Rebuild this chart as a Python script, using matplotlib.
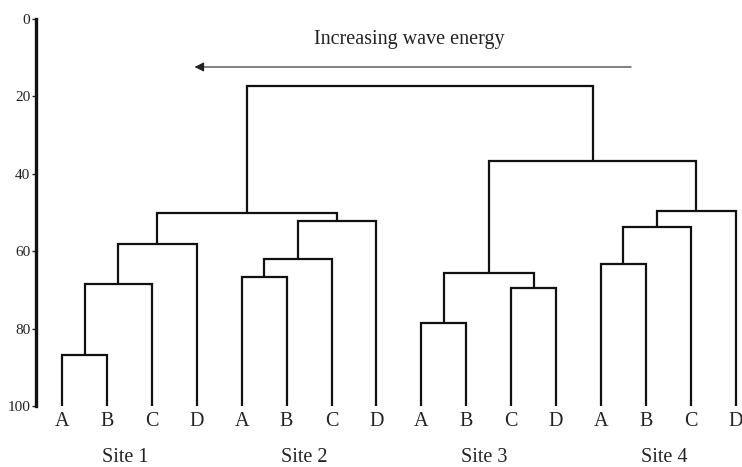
import matplotlib
matplotlib.use("Agg")
import matplotlib.pyplot as plt

plt.rcParams['font.family'] = ['Liberation Serif', 'DejaVu Serif']

# leaves, left to right
leaf_labels = ['A', 'B', 'C', 'D'] * 4
sites = ['Site 1', 'Site 2', 'Site 3', 'Site 4']

# merges, scipy-style: nodes 0-15 are leaves, node 16+k is merge k
merge_left = [0, 16, 17, 4, 19, 20, 18, 8, 10, 23, 12, 26, 27, 25, 22]
merge_right = [1, 2, 3, 5, 6, 7, 21, 9, 11, 24, 13, 14, 15, 28, 29]
merge_height = [86.7, 68.6, 58.2, 66.7, 62.0, 52.3, 50.2,
                78.5, 69.6, 65.6, 63.2, 53.7, 49.6, 36.7, 17.3]

yticks = [0, 20, 40, 60, 80, 100]
title = 'Increasing wave energy'

W, H = 742, 467
fig = plt.figure(figsize=(W / 100, H / 100), dpi=100)
ax = fig.add_axes([36 / W, 1 - 406 / H, (742 - 36) / W, (406 - 19) / H])

n = len(leaf_labels)
xpos = {i: float(i) for i in range(n)}
hpos = {i: 100.0 for i in range(n)}

lc = '#111111'
tc = '#222222'
for k, (a, b, h) in enumerate(zip(merge_left, merge_right, merge_height)):
    xa, xb = xpos[a], xpos[b]
    ax.plot([xa, xa, xb, xb], [hpos[a], h, h, hpos[b]], color=lc, lw=1.6,
            solid_joinstyle='miter', solid_capstyle='butt', clip_on=False)
    xpos[n + k] = (xa + xb) / 2
    hpos[n + k] = h

ax.set_ylim(100, 0)
ax.set_xlim(-0.58, 15.14)

for s in ['top', 'right', 'bottom']:
    ax.spines[s].set_visible(False)
ax.spines['left'].set_linewidth(2.4)
ax.spines['left'].set_color(lc)
ax.set_yticks(yticks)
ax.tick_params(axis='y', direction='out', length=3, width=1, pad=1,
               labelsize=11, colors=tc)

ax.set_xticks(range(n))
ax.set_xticklabels(leaf_labels, fontsize=14.5, color=tc)
ax.tick_params(axis='x', length=0, pad=4)

for i, s in enumerate(sites):
    ax.text(4 * i + 1.4, 113.2, s, ha='center', va='center', fontsize=14.5,
            color=tc, clip_on=False)

ax.annotate('', xy=(2.95, 12.4), xytext=(12.67, 12.4),
            arrowprops=dict(arrowstyle='-|>', lw=0.8, color=tc,
                            mutation_scale=14, shrinkA=0, shrinkB=0))
ax.text(7.74, 5.4, title, ha='center', va='center', fontsize=14.5, color=tc)

fig.savefig('out.png', dpi=100)
